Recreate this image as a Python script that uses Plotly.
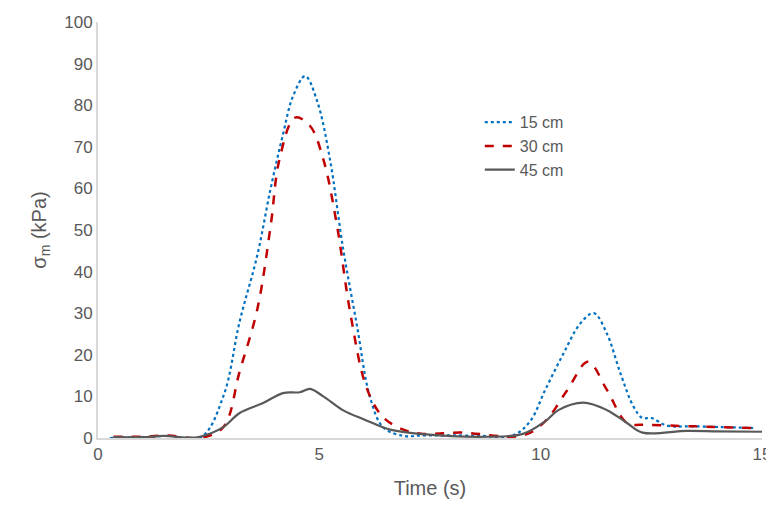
import plotly.graph_objects as go

# 15 cm
x15 = [0.27, 1.0, 2.3, 2.83, 3.2, 3.6, 3.9, 4.18, 4.4, 4.68, 4.95, 5.24, 5.53, 5.85, 6.14, 6.44, 6.9, 7.3, 8.5, 9.37, 9.76, 10.1, 10.5, 10.9, 11.2, 11.5, 11.8, 12.1, 12.3, 12.5, 12.85, 13.5, 14.8]
y15 = [0, 0.2, 0, 10, 28, 44, 60, 73, 82, 87, 81, 67, 46, 27, 10, 2.6, 0.5, 0.6, 0.6, 0.6, 4, 11.5, 20, 27.6, 30, 25, 15.6, 7.5, 4.8, 4.8, 3, 2.8, 2.4]
# 30 cm
x30 = [0.35, 1.0, 1.6, 2.3, 2.83, 3.2, 3.6, 3.9, 4.1, 4.45, 4.79, 5.09, 5.4, 5.7, 6.07, 6.44, 6.9, 7.3, 8.2, 9.6, 10.1, 10.6, 11.07, 11.5, 11.95, 12.4, 13.5, 14.8]
y30 = [0.3, 0.3, 0.6, 0, 2.6, 16, 31, 51, 67, 77, 75, 67, 51, 30, 12, 5, 2, 1, 1.3, 0.6, 4, 11.5, 18.3, 11.5, 3.6, 3.2, 2.8, 2.4]
# 45 cm
x45 = [0.35, 1.0, 1.5, 2.0, 2.3, 2.83, 3.2, 3.73, 4.18, 4.56, 4.79, 5.09, 5.53, 6.0, 6.6, 7.27, 8.8, 9.6, 10.1, 10.4, 10.96, 11.5, 11.95, 12.3, 13.3, 14.0, 15.0]
y45 = [0.2, 0.2, 0.5, 0.1, 0.3, 2.6, 6, 8.4, 10.8, 11, 11.8, 10, 6.7, 4.5, 2, 1, 0.3, 1, 4, 6.7, 8.5, 6.7, 3.6, 1.3, 1.7, 1.6, 1.5]

fig = go.Figure()
fig.add_trace(go.Scatter(x=x15, y=y15, name="15 cm", mode="lines", line_shape="spline",
                         line=dict(color="#0070C0", width=2.2, dash="dot")))
fig.add_trace(go.Scatter(x=x30, y=y30, name="30 cm", mode="lines", line_shape="spline",
                         line=dict(color="#C00000", width=2.5, dash="dash")))
fig.add_trace(go.Scatter(x=x45, y=y45, name="45 cm", mode="lines", line_shape="spline",
                         line=dict(color="#595959", width=2.2)))

# page has ~8px body margin, so the figure is a bit smaller than the window
fig.update_layout(
    width=766, height=508, plot_bgcolor="white", paper_bgcolor="white",
    margin=dict(l=90, r=12, t=14, b=78, autoexpand=False),
    font=dict(family="Liberation Sans", size=17, color="#595959"),
    showlegend=True,
    legend=dict(x=0.575, y=0.8, xanchor="left", yanchor="top", font=dict(size=16),
                bgcolor="rgba(0,0,0,0)", tracegroupgap=4),
    xaxis=dict(title=dict(text="Time (s)", standoff=18), range=[0, 15], tickvals=[0, 5, 10, 15],
               showgrid=False, zeroline=False, showline=True, linecolor="#D9D9D9", linewidth=2,
               ticks="", automargin=False),
    yaxis=dict(title=dict(text="σ<sub>m</sub> (kPa)", standoff=12), range=[0, 100], dtick=10,
               showgrid=False, zeroline=False, showline=True, linecolor="#D9D9D9", linewidth=2,
               ticks="", automargin=False),
)
fig.write_html("out.html")
